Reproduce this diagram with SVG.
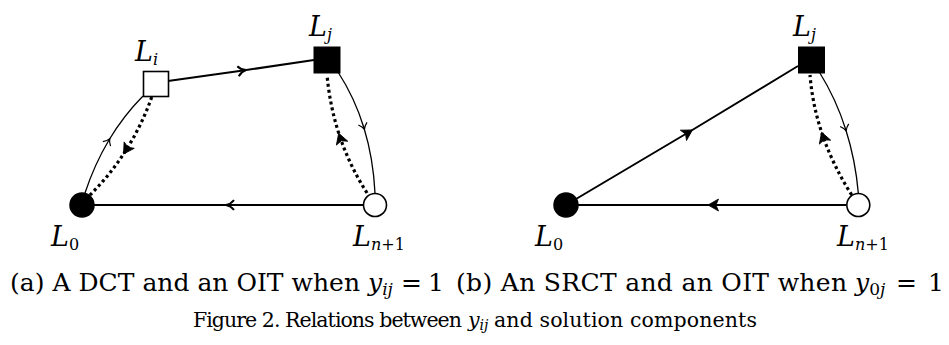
<svg xmlns="http://www.w3.org/2000/svg" width="949" height="345" viewBox="0 0 949 345">
<style>
.edge{fill:none;stroke:#000;stroke-width:2}
.thin{fill:none;stroke:#000;stroke-width:1.3}
.dot{fill:none;stroke:#000;stroke-width:3.2;stroke-dasharray:3 3}
.lbl{font-style:italic;font-size:27px;fill:#000}
.sub{font-size:16px}
.up{font-style:normal}
.cap{font-size:25px;fill:#000}
.fig{font-size:20.5px;fill:#000}
.it{font-style:italic}
</style>
<defs>
<marker id="mThin" markerUnits="userSpaceOnUse" markerWidth="20" markerHeight="20" viewBox="-10 -10 20 20" refX="0" refY="0" orient="auto" overflow="visible">
<path d="M-4.5,-4.5 Q-1.5,-1 1.5,0 Q-1.5,1 -4.5,4.5" fill="none" stroke="#000" stroke-width="1.2"/>
</marker>
<marker id="mOpen" markerUnits="userSpaceOnUse" markerWidth="20" markerHeight="20" viewBox="-10 -10 20 20" refX="0" refY="0" orient="auto" overflow="visible">
<path d="M-5,-5 Q-2,-1 3,0 Q-2,1 -5,5" fill="none" stroke="#000" stroke-width="2"/>
</marker>
<marker id="mFill" markerUnits="userSpaceOnUse" markerWidth="20" markerHeight="20" viewBox="-10 -10 20 20" refX="0" refY="0" orient="auto" overflow="visible">
<path d="M-6.5,-6 L4,0 L-6.5,6 L-4,0 Z" fill="#000" stroke="#000" stroke-width="0.8" stroke-linejoin="miter"/>
</marker>
</defs>

<g id="connectors">
<path class="edge" d="M168,81 L243,70.5 L314,60" marker-mid="url(#mOpen)"/>
<path class="edge" d="M363,205 L229,205 L94,205" marker-mid="url(#mOpen)"/>
<path class="thin" d="M85,193 Q94.5,164.25 109,140 Q123.5,115.75 143,96" marker-mid="url(#mThin)"/>
<path class="dot" d="M151.7,97 Q141.65,125.75 125.7,150.6 Q109.8,175.75 88,197" marker-mid="url(#mFill)"/>
<path class="thin" d="M338,72 Q354.75,97.75 364,128 Q373.25,158.25 375,193" marker-mid="url(#mThin)"/>
<path class="dot" d="M367,193 Q350,166.5 340,137 Q330,107.5 327,75" marker-mid="url(#mFill)"/>
<path class="edge" d="M576,199 L689,132 L798,66" marker-mid="url(#mFill)"/>
<path class="edge" d="M846,205 L712,205 L578,205" marker-mid="url(#mFill)"/>
<path class="thin" d="M819.3,72 Q836,98.75 845.75,129.5 Q855.5,160.25 858.3,193" marker-mid="url(#mThin)"/>
<path class="dot" d="M851.7,195 Q833.35,166 822.9,136 Q812.5,106 810,75" marker-mid="url(#mFill)"/>
</g>

<g font-family="DejaVu Serif">
<g id="a-L0">
<circle cx="82" cy="205" r="12" fill="#000" stroke="#000" stroke-width="1.5"/>
<text class="lbl" x="51" y="246">L<tspan class="sub up" dy="4">0</tspan></text>
</g>
<g id="a-Ln1">
<circle cx="375" cy="205" r="11.5" fill="#fff" stroke="#000" stroke-width="1.6"/>
<text class="lbl" x="353" y="246">L<tspan class="sub" dy="4">n</tspan><tspan class="sub up">+1</tspan></text>
</g>
<g id="a-Li">
<rect x="143.5" y="71.5" width="25" height="25" fill="#fff" stroke="#000" stroke-width="1.6"/>
<text class="lbl" x="135" y="61">L<tspan class="sub" dy="4">i</tspan></text>
</g>
<g id="a-Lj">
<rect x="314" y="47" width="26" height="26" fill="#000" stroke="#000" stroke-width="1"/>
<text class="lbl" x="309" y="36">L<tspan class="sub" dy="4">j</tspan></text>
</g>

<g id="b-L0">
<circle cx="566" cy="205" r="12" fill="#000" stroke="#000" stroke-width="1.5"/>
<text class="lbl" x="535" y="246">L<tspan class="sub up" dy="4">0</tspan></text>
</g>
<g id="b-Ln1">
<circle cx="858.3" cy="205" r="11.5" fill="#fff" stroke="#000" stroke-width="1.6"/>
<text class="lbl" x="837" y="246">L<tspan class="sub" dy="4">n</tspan><tspan class="sub up">+1</tspan></text>
</g>
<g id="b-Lj">
<rect x="798.5" y="47" width="26" height="26" fill="#000" stroke="#000" stroke-width="1"/>
<text class="lbl" x="793" y="36">L<tspan class="sub" dy="4">j</tspan></text>
</g>

<g id="captions">
<text class="cap" x="10" y="291" textLength="350" lengthAdjust="spacing">(a) A DCT and an OIT when</text>
<text class="cap it" x="368" y="291">y<tspan font-size="17" dy="4">ij</tspan></text>
<text class="cap" x="401" y="291">=</text>
<text class="cap" x="428" y="291">1</text>

<text class="cap" x="456" y="291" textLength="391" lengthAdjust="spacing">(b) An SRCT and an OIT when</text>
<text class="cap it" x="855" y="291">y<tspan font-size="17" dy="4" font-style="normal">0</tspan><tspan font-size="17">j</tspan></text>
<text class="cap" x="896" y="291">=</text>
<text class="cap" x="928" y="291">1</text>

<text class="fig" x="193" y="327" textLength="269" lengthAdjust="spacing">Figure 2. Relations between</text>
<text class="fig it" x="468" y="327">y<tspan font-size="14" dy="3">ij</tspan></text>
<text class="fig" x="494" y="327" textLength="263" lengthAdjust="spacing">and solution components</text>
</g>
</g>
</svg>
